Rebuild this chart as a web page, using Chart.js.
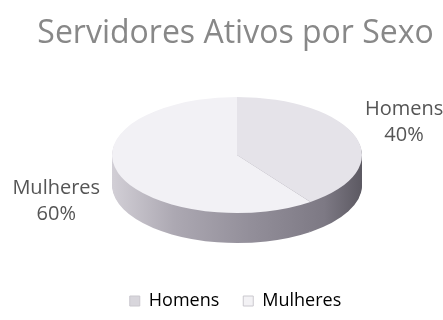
<!DOCTYPE html>
<html>
<head>
<meta charset="utf-8">
<script src="https://cdn.jsdelivr.net/npm/chart.js@4"></script>
<style>
  html, body { margin: 0; padding: 0; background: #fff; }
  #wrap { width: 443px; height: 320px; }
</style>
</head>
<body>
<div id="wrap"><canvas id="pie"></canvas></div>
<script>
const categories = ["Homens", "Mulheres"];
const shares = [40, 60];
const faceColors = ["#e5e3e9", "#f2f1f5"];
const swatchColors = ["#d8d6dc", "#f3f2f5"];

// top face ellipse and thickness of the 3d disc
const disc = { cx: 237, cy: 155, rx: 125, ry: 58, depth: 30 };

function toDisc(ctx, arc, yOff) {
  const r = arc.outerRadius;
  ctx.translate(disc.cx, disc.cy + yOff);
  ctx.scale(disc.rx / r, disc.ry / r);
  ctx.translate(-arc.x, -arc.y);
}

function slicePath(ctx, arc) {
  ctx.beginPath();
  ctx.moveTo(arc.x, arc.y);
  ctx.arc(arc.x, arc.y, arc.outerRadius, arc.startAngle, arc.endAngle);
  ctx.closePath();
}

const disc3d = {
  id: "disc3d",
  beforeDatasetsDraw(chart) {
    const ctx = chart.ctx;
    const arcs = chart.getDatasetMeta(0).data;
    // side wall: stack the slices downwards with a shaded fill
    for (let off = disc.depth; off > 0; off--) {
      arcs.forEach(arc => {
        ctx.save();
        toDisc(ctx, arc, off);
        const r = arc.outerRadius;
        const g = ctx.createLinearGradient(arc.x - r, 0, arc.x + r, 0);
        g.addColorStop(0, "#d2cfd6");
        g.addColorStop(0.25, "#aca8b2");
        g.addColorStop(0.55, "#938f9a");
        g.addColorStop(0.85, "#7d7984");
        g.addColorStop(1, "#5c5962");
        ctx.fillStyle = g;
        slicePath(ctx, arc);
        ctx.fill();
        ctx.restore();
      });
    }
    ctx.save();
    toDisc(ctx, arcs[0], 0);
  },
  afterDatasetsDraw(chart) {
    chart.ctx.restore();
  },
  afterDraw(chart) {
    const ctx = chart.ctx;
    const arcs = chart.getDatasetMeta(0).data;
    const total = shares.reduce((a, b) => a + b, 0);
    ctx.save();
    ctx.font = "20px 'Open Sans'";
    ctx.fillStyle = "#555555";
    ctx.textAlign = "center";
    ctx.textBaseline = "middle";
    arcs.forEach((arc, i) => {
      const mid = (arc.startAngle + arc.endAngle) / 2;
      const c = Math.cos(mid), s = Math.sin(mid);
      const ex = disc.cx + c * disc.rx;
      const ey = disc.cy + s * disc.ry;
      const name = categories[i];
      const pct = Math.round(shares[i] / total * 100) + "%";
      const w = Math.max(ctx.measureText(name).width, ctx.measureText(pct).width);
      const gap = s > 0 ? 18 : 9;
      const x = c > 0 ? ex + gap + w / 2 : ex - gap - w / 2;
      const y = ey + s * 48 + (s > 0 ? 14 : 0);
      ctx.fillText(name, x, y - 13);
      ctx.fillText(pct, x, y + 13);
    });
    ctx.restore();
  }
};

new Chart(document.getElementById("pie"), {
  type: "pie",
  data: {
    labels: categories,
    datasets: [{
      data: shares,
      backgroundColor: faceColors,
      borderWidth: 0,
      clip: false
    }]
  },
  options: {
    responsive: true,
    maintainAspectRatio: false,
    animation: false,
    events: [],
    layout: { padding: { left: 28, right: 0, top: 0, bottom: 0 } },
    plugins: {
      title: {
        display: true,
        text: "Servidores Ativos por Sexo",
        color: "#888888",
        font: { family: "'Open Sans'", size: 32, weight: "normal" },
        padding: { top: 15, bottom: 4 }
      },
      legend: {
        position: "bottom",
        labels: {
          color: "#777777",
          font: { family: "'Open Sans'", size: 18 },
          boxWidth: 10,
          boxHeight: 10,
          padding: 24,
          generateLabels() {
            return categories.map((name, i) => ({
              text: name,
              fillStyle: swatchColors[i],
              strokeStyle: "#cac8ce",
              lineWidth: 1,
              index: i,
              hidden: false
            }));
          }
        }
      },
      tooltip: { enabled: false }
    }
  },
  plugins: [disc3d]
});
</script>
</body>
</html>
